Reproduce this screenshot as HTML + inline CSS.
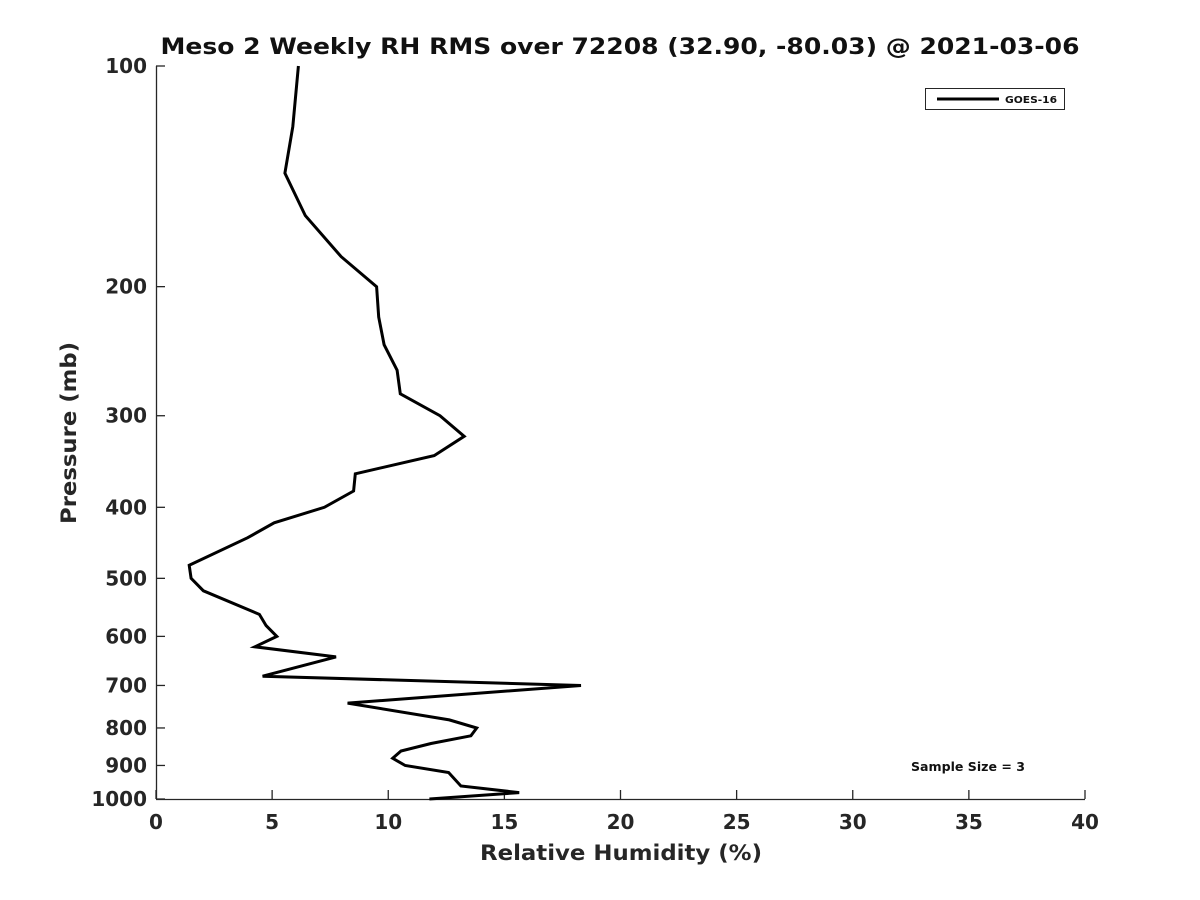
<!DOCTYPE html>
<html><head><meta charset="utf-8"><style>
body{margin:0;background:#fff;}
svg{display:block;font-family:"DejaVu Sans","Liberation Sans",sans-serif;}
</style></head><body>
<svg id="chart" width="1200" height="900">
<rect width="1200" height="900" fill="#fff"/>
<text x="620" y="54" text-anchor="middle" font-size="22" font-weight="bold" fill="#111" textLength="919" lengthAdjust="spacingAndGlyphs">Meso 2 Weekly RH RMS over 72208 (32.90, -80.03) @ 2021-03-06</text>
<g id="axes"></g>
<g id="series"></g>
<text x="621" y="860" text-anchor="middle" font-size="21" font-weight="bold" fill="#262626" textLength="282" lengthAdjust="spacingAndGlyphs">Relative Humidity (%)</text>
<text transform="translate(76,433) rotate(-90)" text-anchor="middle" font-size="21" font-weight="bold" fill="#262626" textLength="182" lengthAdjust="spacingAndGlyphs">Pressure (mb)</text>
<g>
<rect x="925.5" y="88.5" width="139" height="21" fill="#fff" stroke="#262626" stroke-width="1"/>
<line x1="937" y1="99" x2="999" y2="99" stroke="#000" stroke-width="3"/>
<text x="1005" y="103" font-size="10" font-weight="bold" fill="#111" textLength="52" lengthAdjust="spacingAndGlyphs">GOES-16</text>
</g>
<text x="911" y="771" font-size="12.5" font-weight="bold" fill="#111" textLength="114" lengthAdjust="spacingAndGlyphs">Sample Size = 3</text>
</svg>
<script>
const xTicks=[0,5,10,15,20,25,30,35,40];
const yTicks=[100,200,300,400,500,600,700,800,900,1000];
const pressure=[100,121,140,160,182,200,220,240,260,280,300,320,340,360,380,400,420,440,480,500,520,560,580,600,620,640,680,700,740,780,800,820,840,860,880,900,920,960,980,1000];
const rhRms=[6.13,5.89,5.55,6.43,7.97,9.50,9.59,9.82,10.38,10.52,12.23,13.27,11.98,8.58,8.51,7.25,5.09,3.95,1.43,1.51,2.04,4.45,4.74,5.20,4.26,7.75,4.59,18.30,8.25,12.63,13.81,13.56,11.84,10.55,10.19,10.73,12.60,13.13,15.64,11.77];
const X0=156,X1=1085,Y0=66,Y1=799;
const xs=v=>X0+(v-0)/(40-0)*(X1-X0);
const ys=p=>Y0+(Math.log10(p)-2)/(3-2)*(Y1-Y0);
const NS="http://www.w3.org/2000/svg";
const ax=document.getElementById('axes');
function mk(t,a,parent){const e=document.createElementNS(NS,t);for(const k in a)e.setAttribute(k,a[k]);parent.appendChild(e);return e;}
let l=mk('line',{x1:X0,y1:Y1+0.5,x2:X1,y2:Y1+0.5,stroke:'#262626','stroke-width':1.3},ax);


l=mk('line',{x1:X0+0.5,y1:Y0,x2:X0+0.5,y2:Y1,stroke:'#262626','stroke-width':1.3},ax);


xTicks.forEach(v=>{const x=xs(v);
 const t=mk('line',{x1:x,y1:Y1,x2:x,y2:Y1-9,stroke:'#262626','stroke-width':1.3},ax);
 
 
 const tx=mk('text',{x:x,y:Y1+30,'text-anchor':'middle','font-size':20,'font-weight':'bold',fill:'#262626'},ax);
 tx.textContent=v;
 
 
});
yTicks.forEach(p=>{const y=ys(p);
 const t=mk('line',{x1:X0,y1:y,x2:X0+9,y2:y,stroke:'#262626','stroke-width':1.3},ax);
 
 
 const tx=mk('text',{x:X0-9,y:y+7,'text-anchor':'end','font-size':20,'font-weight':'bold',fill:'#262626'},ax);
 tx.textContent=p;
 
 
});
const pts=pressure.map((p,i)=>xs(rhRms[i]).toFixed(1)+','+ys(p).toFixed(1)).join(' ');
const pl=mk('polyline',{points:pts,fill:'none',stroke:'#000','stroke-width':3,'stroke-linejoin':'miter'},document.getElementById('series'));


</script>
</body></html>
